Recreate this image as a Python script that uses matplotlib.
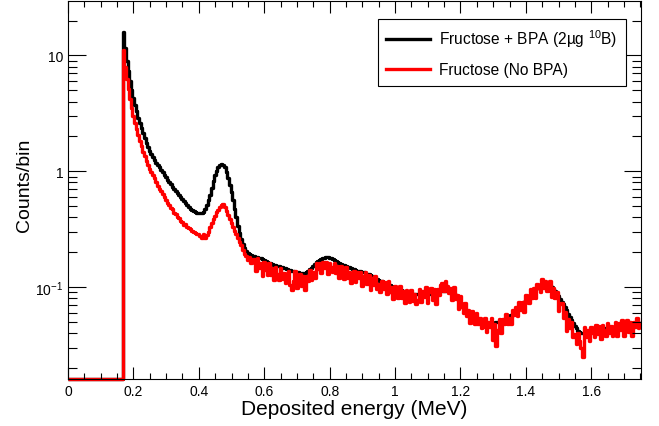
import matplotlib
matplotlib.use("Agg")
import numpy as np
import matplotlib.pyplot as plt
from matplotlib.ticker import MultipleLocator, LogLocator, NullFormatter, FuncFormatter

plt.rcParams['font.family'] = ['Liberation Sans', 'DejaVu Sans']
plt.rcParams['mathtext.fontset'] = 'custom'
plt.rcParams['mathtext.rm'] = 'Liberation Sans'
plt.rcParams['mathtext.it'] = 'Liberation Sans:italic'
plt.rcParams['mathtext.bf'] = 'Liberation Sans:bold'

# ---------------- data ----------------
threshold_mev = 0.167      # first non-empty bin edge
bin_width_mev = 0.005

label_bpa = "Fructose + BPA (2µg $^{10}$B)"
label_nobpa = "Fructose (No BPA)"

counts_bpa = [
    # 0.17 - 0.27
    16.0, 11.5, 9.0, 7.3, 6.0, 5.0, 4.3, 3.75, 3.3, 2.9, 2.6, 2.35, 2.12, 1.93, 1.77, 1.63, 1.51, 1.41, 1.33, 1.26,
    # 0.27 - 0.37
    1.19, 1.13, 1.08, 1.03, 0.98, 0.93, 0.885, 0.845, 0.805, 0.77, 0.735, 0.705, 0.675, 0.647, 0.62, 0.595, 0.572, 0.55, 0.53, 0.51,
    # 0.37 - 0.47
    0.492, 0.477, 0.463, 0.452, 0.444, 0.438, 0.435, 0.434, 0.438, 0.448, 0.47, 0.51, 0.56, 0.63, 0.72, 0.82, 0.92, 1.01, 1.09, 1.14,
    # 0.47 - 0.57
    1.16, 1.14, 1.08, 0.99, 0.88, 0.76, 0.66, 0.56, 0.47, 0.40, 0.34, 0.295, 0.262, 0.237, 0.219, 0.207, 0.198, 0.193, 0.189, 0.186,
    # 0.57 - 0.67
    0.184, 0.182, 0.181, 0.179, 0.177, 0.174, 0.171, 0.168, 0.165, 0.162, 0.160, 0.158, 0.156, 0.154, 0.152, 0.151, 0.149, 0.148, 0.146, 0.145,
    # 0.67 - 0.77
    0.143, 0.141, 0.140, 0.138, 0.137, 0.136, 0.135, 0.134, 0.133, 0.132, 0.132, 0.133, 0.135, 0.138, 0.142, 0.147, 0.153, 0.159, 0.164, 0.168,
    # 0.77 - 0.87
    0.172, 0.175, 0.178, 0.180, 0.181, 0.181, 0.180, 0.177, 0.174, 0.170, 0.167, 0.164, 0.161, 0.158, 0.156, 0.154, 0.152, 0.150, 0.148, 0.146,
    # 0.87 - 0.97
    0.144, 0.142, 0.140, 0.139, 0.138, 0.137, 0.135, 0.134, 0.133, 0.131, 0.129, 0.127, 0.125, 0.122, 0.120, 0.118, 0.116, 0.114, 0.112, 0.110,
    # 0.97 - 1.07
    0.108, 0.107, 0.106, 0.104, 0.102, 0.101, 0.099, 0.098, 0.096, 0.095, 0.094, 0.093, 0.092, 0.091, 0.090, 0.090, 0.089, 0.088, 0.088, 0.087,
    # 1.07 - 1.17
    0.087, 0.087, 0.087, 0.087, 0.087, 0.088, 0.088, 0.088, 0.089, 0.089, 0.090, 0.090, 0.091, 0.091, 0.092, 0.092, 0.093, 0.093, 0.093, 0.093,
    # 1.17 - 1.27
    0.092, 0.091, 0.089, 0.086, 0.083, 0.079, 0.075, 0.071, 0.068, 0.065, 0.062, 0.060, 0.058, 0.057, 0.056, 0.055, 0.054, 0.053, 0.052, 0.052,
    # 1.27 - 1.37
    0.051, 0.050, 0.050, 0.049, 0.049, 0.049, 0.049, 0.049, 0.050, 0.050, 0.051, 0.051, 0.052, 0.053, 0.054, 0.055, 0.056, 0.058, 0.059, 0.061,
    # 1.37 - 1.47
    0.063, 0.065, 0.067, 0.069, 0.071, 0.074, 0.077, 0.080, 0.083, 0.086, 0.089, 0.092, 0.095, 0.098, 0.101, 0.104, 0.106, 0.108, 0.109, 0.109,
    # 1.47 - 1.57
    0.108, 0.105, 0.101, 0.097, 0.092, 0.087, 0.083, 0.079, 0.075, 0.071, 0.067, 0.063, 0.059, 0.055, 0.052, 0.049, 0.046, 0.044, 0.042, 0.041,
    # 1.57 - 1.67
    0.040, 0.040, 0.040, 0.040, 0.041, 0.041, 0.041, 0.042, 0.042, 0.042, 0.043, 0.043, 0.043, 0.043, 0.044, 0.044, 0.044, 0.044, 0.045, 0.045,
    # 1.67 - 1.75
    0.045, 0.045, 0.045, 0.046, 0.046, 0.046, 0.046, 0.047, 0.047, 0.047, 0.047, 0.048, 0.048, 0.048, 0.048, 0.049, 0.049,
]

counts_nobpa = [
    # 0.17 - 0.27
    11.1, 7.9, 6.2, 5.1, 4.2, 3.5, 2.98, 2.63, 2.30, 2.04, 1.81, 1.66, 1.48, 1.36, 1.23, 1.14, 1.05, 0.99, 0.92, 0.87,
    # 0.27 - 0.37
    0.80, 0.74, 0.71, 0.67, 0.64, 0.60, 0.57, 0.53, 0.515, 0.485, 0.47, 0.44, 0.425, 0.405, 0.395, 0.37, 0.365, 0.345, 0.35, 0.33,
    # 0.37 - 0.47
    0.325, 0.318, 0.305, 0.302, 0.292, 0.288, 0.29, 0.276, 0.268, 0.288, 0.266, 0.284, 0.298, 0.33, 0.36, 0.39, 0.41, 0.445, 0.465, 0.49,
    # 0.47 - 0.57
    0.51, 0.525, 0.49, 0.455, 0.42, 0.39, 0.36, 0.33, 0.305, 0.285, 0.265, 0.245, 0.23, 0.21, 0.195, 0.185, 0.172, 0.182, 0.163, 0.175,
    # 0.57 - 0.67
    0.175, 0.138, 0.178, 0.145, 0.162, 0.125, 0.165, 0.141, 0.128, 0.162, 0.127, 0.147, 0.115, 0.148, 0.130, 0.116, 0.145, 0.118, 0.132, 0.109,
    # 0.67 - 0.77
    0.113, 0.139, 0.105, 0.094, 0.114, 0.137, 0.099, 0.120, 0.129, 0.102, 0.124, 0.094, 0.125, 0.113, 0.141, 0.115, 0.135, 0.120, 0.160, 0.142,
    # 0.77 - 0.87
    0.163, 0.132, 0.165, 0.145, 0.165, 0.130, 0.163, 0.148, 0.135, 0.160, 0.132, 0.153, 0.119, 0.152, 0.133, 0.118, 0.149, 0.120, 0.134, 0.109,
    # 0.87 - 0.97
    0.119, 0.138, 0.110, 0.136, 0.119, 0.135, 0.103, 0.125, 0.134, 0.106, 0.127, 0.094, 0.121, 0.104, 0.124, 0.097, 0.107, 0.090, 0.114, 0.097,
    # 0.97 - 1.07
    0.111, 0.088, 0.113, 0.091, 0.101, 0.079, 0.103, 0.088, 0.080, 0.102, 0.080, 0.093, 0.073, 0.094, 0.083, 0.075, 0.094, 0.076, 0.087, 0.071,
    # 1.07 - 1.17
    0.078, 0.097, 0.074, 0.092, 0.082, 0.100, 0.073, 0.090, 0.098, 0.078, 0.096, 0.072, 0.096, 0.085, 0.104, 0.108, 0.093, 0.112, 0.103, 0.089,
    # 1.17 - 1.27
    0.099, 0.078, 0.100, 0.079, 0.086, 0.065, 0.083, 0.067, 0.060, 0.073, 0.056, 0.064, 0.049, 0.062, 0.054, 0.048, 0.060, 0.048, 0.054, 0.044,
    # 1.27 - 1.37
    0.045, 0.054, 0.041, 0.050, 0.045, 0.054, 0.035, 0.048, 0.031, 0.043, 0.053, 0.040, 0.053, 0.048, 0.059, 0.048, 0.054, 0.048, 0.063, 0.057,
    # 1.37 - 1.47
    0.068, 0.056, 0.075, 0.063, 0.074, 0.061, 0.085, 0.076, 0.073, 0.097, 0.080, 0.098, 0.080, 0.107, 0.098, 0.090, 0.118, 0.098, 0.112, 0.093,
    # 1.47 - 1.57
    0.095, 0.114, 0.082, 0.098, 0.081, 0.091, 0.062, 0.071, 0.073, 0.054, 0.061, 0.042, 0.053, 0.044, 0.050, 0.037, 0.039, 0.032, 0.040, 0.034,
    # 1.57 - 1.67
    0.030, 0.025, 0.045, 0.037, 0.043, 0.034, 0.045, 0.040, 0.037, 0.047, 0.039, 0.046, 0.036, 0.047, 0.043, 0.038, 0.049, 0.040, 0.046, 0.038,
    # 1.67 - 1.75
    0.041, 0.050, 0.038, 0.049, 0.043, 0.052, 0.038, 0.048, 0.052, 0.041, 0.050, 0.038, 0.050, 0.045, 0.054, 0.044, 0.049,
]

x_label = "Deposited energy (MeV)"
y_label = "Counts/bin"

# ---------------- figure ----------------
W, H = 659, 427
fig = plt.figure(figsize=(W / 100, H / 100), dpi=100)
ax = fig.add_axes([68 / W, (H - 380) / H, (641 - 68) / W, (380 - 2) / H])

y_lo, y_hi = 0.0161, 29.5
n = len(counts_bpa)
edges = np.concatenate([[0.0], threshold_mev + bin_width_mev * np.arange(n + 1)])


def shown(vals):
    v = np.concatenate([[0.0], np.asarray(vals, float)])
    return np.where(v > 0, v, y_lo)


ax.stairs(shown(counts_bpa), edges, baseline=None, color='black', lw=2.4,
          label=label_bpa, clip_on=False, joinstyle='round')
ax.stairs(shown(counts_nobpa), edges, baseline=None, color='#ff0000', lw=2.4,
          label=label_nobpa, clip_on=False, joinstyle='round')

ax.set_yscale('log')
ax.set_xlim(0, edges[-1])
ax.set_ylim(y_lo, y_hi)

ax.xaxis.set_major_locator(MultipleLocator(0.2))
ax.xaxis.set_minor_locator(MultipleLocator(0.05))
ax.xaxis.set_major_formatter(FuncFormatter(lambda v, p: f"{v:g}"))
ax.yaxis.set_major_locator(LogLocator(base=10, numticks=10))
ax.yaxis.set_minor_locator(LogLocator(base=10, subs=np.arange(2, 10), numticks=20))
ax.yaxis.set_minor_formatter(NullFormatter())


def yfmt(v, p):
    e = int(round(np.log10(v)))
    if e >= 0:
        return f"{v:g}"
    return r"$10^{%d}$" % e


ax.yaxis.set_major_formatter(FuncFormatter(yfmt))

ax.tick_params(axis='both', which='both', direction='in', top=True, right=True,
               width=0.8, labelsize=10, colors='black')
ax.tick_params(axis='x', which='major', length=8.3, pad=3.5)
ax.tick_params(axis='x', which='minor', length=4.0)
ax.tick_params(axis='y', which='major', length=12.6, pad=3.5)
ax.tick_params(axis='y', which='minor', length=6.5)
for s in ax.spines.values():
    s.set_linewidth(0.8)

ax.set_xlabel(x_label, fontsize=15)
ax.set_ylabel(y_label, fontsize=14)
ax.xaxis.set_label_coords(0.5, -0.053)
ax.yaxis.set_label_coords(-0.061, 0.516)

leg = ax.legend(loc='upper right', bbox_to_anchor=((626 - 68) / 573, (380 - 20) / 378),
                fontsize=11.2, frameon=True, fancybox=False, shadow=False,
                edgecolor='black', framealpha=1, borderaxespad=0,
                handlelength=2.8, handletextpad=0.6, labelspacing=0.85,
                borderpad=0.55)
leg.get_frame().set_linewidth(0.8)
for line in leg.get_lines():
    line.set_linewidth(2.4)

fig.savefig("out.png", dpi=100)
